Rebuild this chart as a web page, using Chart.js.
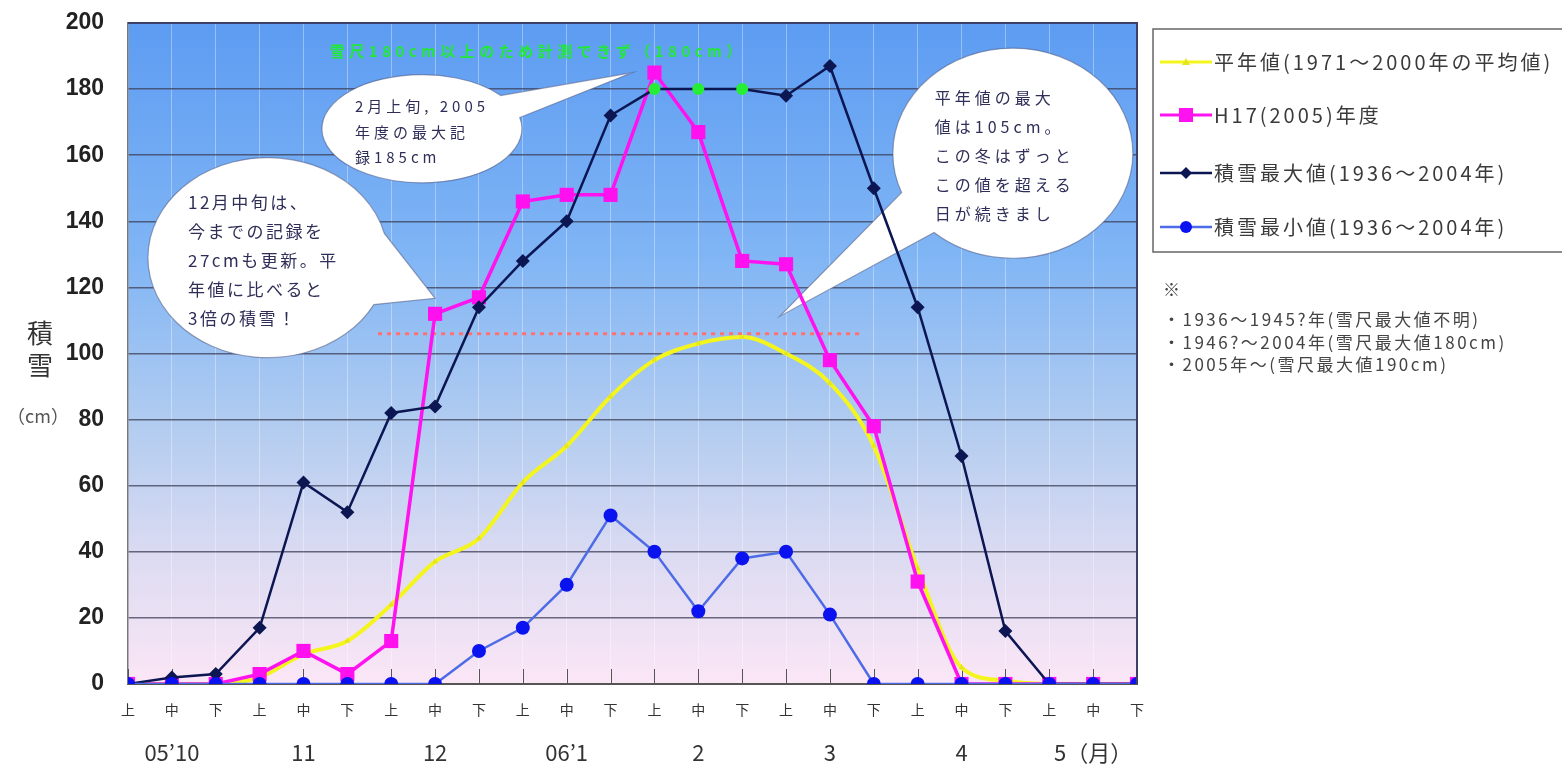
<!DOCTYPE html>
<html><head><meta charset="utf-8">
<script src="https://cdn.jsdelivr.net/npm/chart.js@4.4.1/dist/chart.umd.min.js"></script>
<style>html,body{margin:0;padding:0;background:#fff;overflow:hidden}#wrap{width:1562px;height:765px;position:relative}</style>
</head><body><div id="wrap"><canvas id="c" width="1562" height="765"></canvas></div>
<script>
// ---- data ----
const periodLabels = ['上','中','下','上','中','下','上','中','下','上','中','下','上','中','下','上','中','下','上','中','下','上','中','下'];
const monthLabels = ['', '05’10', '', '', '11', '', '', '12', '', '', '06’1', '', '', '2', '', '', '3', '', '', '4', '', '', '5（月）', ''];
const normalValues = [0,0,0,2,9,13,24,37,44,61,72,87,98,103,105,100,91,72,35,5,1,0,0,0];
const h17Values    = [0,0,0,3,10,3,13,112,117,146,148,148,185,167,128,127,98,78,31,0,0,0,0,0];
const maxValues    = [0,2,3,17,61,52,82,84,114,128,140,172,180,180,180,178,187,150,114,69,16,0,0,0];
const minValues    = [0,0,0,0,0,0,0,0,10,17,30,51,40,22,38,40,21,0,0,0,0,0,0,0];
const cappedIndices = [12,13,14];          // 雪尺上限で計測できなかった旬
const normalPeakValue = 106;               // 平年値の最大値の目安線
const normalPeakRange = [5.7, 16.75];      // その線の範囲（旬インデックス）
const seriesNames = ['平年値(1971～2000年の平均値)','H17(2005)年度','積雪最大値(1936～2004年)','積雪最小値(1936～2004年)'];
const noteLines = ['※','・1936～1945?年(雪尺最大値不明)','・1946?～2004年(雪尺最大値180cm)','・2005年～(雪尺最大値190cm)'];
const cappedNote = '雪尺180cm以上のため計測できず（180cm）';

const JP = '"Noto Sans CJK JP", "Noto Sans", sans-serif';
const N = periodLabels.length;
const toXY = arr => arr.map((v,i)=>({x:i,y:v}));
const isCapped = ctx => cappedIndices.includes(ctx.dataIndex);

const bubbles = [
  {at:[6.7,168], rx:100, ry:54, tip:[11.5,185], base:[-38,-12], tx:-67, ty:-22, lh:25.5, font:'15px '+JP, ls:4,
   lines:['2月上旬, 2005','年度の最大記','録185cm']},
  {at:[3.19,129], rx:120, ry:100, tip:[7.0,116.7], base:[-14,28], tx:-80, ty:-55, lh:29, font:'17px '+JP, ls:2.5,
   lines:['12月中旬は、','今までの記録を','27cmも更新。平','年値に比べると','3倍の積雪！']},
  {at:[20.17,160.6], rx:120, ry:105, tip:[14.86,111.3], base:[131,158], tx:-78, ty:-55, lh:29, font:'16px '+JP, ls:4,
   lines:['平年値の最大','値は105cm。','この冬はずっと','この値を超える','日が続きまし','た']}
];

const bgPlugin = {
  id:'bg',
  beforeDraw(chart){
    const {ctx, chartArea:a} = chart;
    ctx.save();
    ctx.fillStyle='#fff'; ctx.fillRect(0,0,chart.width,chart.height);
    const g = ctx.createLinearGradient(0,a.top,0,a.bottom);
    g.addColorStop(0,'#5d9cf2'); g.addColorStop(0.35,'#80b5f5');
    g.addColorStop(0.62,'#b4cdf0'); g.addColorStop(0.82,'#dedcf2'); g.addColorStop(1,'#fbe6f6');
    ctx.fillStyle=g; ctx.fillRect(a.left,a.top,a.right-a.left,a.bottom-a.top);
    ctx.restore();
  },
  beforeDatasetsDraw(chart){
    const {ctx, chartArea:a, scales:{x,y}} = chart;
    ctx.save();
    // inner tick marks on x axis
    ctx.strokeStyle='#555'; ctx.lineWidth=1;
    for(let i=0;i<N;i++){ const px=Math.round(x.getPixelForValue(i))+0.5; ctx.beginPath(); ctx.moveTo(px,a.bottom-15); ctx.lineTo(px,a.bottom); ctx.stroke(); }
    // green note
    ctx.fillStyle='#22e83a'; ctx.font='bold 15px '+JP; ctx.textBaseline='middle'; ctx.textAlign='left';
    try{ctx.letterSpacing='4.5px';}catch(e){}
    ctx.fillText(cappedNote, x.getPixelForValue(4.6), y.getPixelForValue(191.5));
    try{ctx.letterSpacing='0px';}catch(e){}
    // bubbles
    const d = Math.PI/180;
    bubbles.forEach(b=>{
      const cx=x.getPixelForValue(b.at[0]), cy=y.getPixelForValue(b.at[1]);
      const tx=x.getPixelForValue(b.tip[0]), ty=y.getPixelForValue(b.tip[1]);
      ctx.beginPath();
      ctx.ellipse(cx,cy,b.rx,b.ry,0,b.base[1]*d,b.base[0]*d+2*Math.PI,false);
      ctx.lineTo(tx,ty); ctx.closePath();
      ctx.fillStyle='#fff'; ctx.fill();
      ctx.strokeStyle='rgba(80,90,130,0.55)'; ctx.lineWidth=1.2; ctx.stroke();
      ctx.save();
      ctx.beginPath(); ctx.ellipse(cx,cy,b.rx-2,b.ry-2,0,0,2*Math.PI); ctx.clip();
      ctx.fillStyle='#2e2e58'; ctx.font=b.font; ctx.textBaseline='middle'; ctx.textAlign='left';
      try{ctx.letterSpacing=b.ls+'px';}catch(e){}
      b.lines.forEach((t,i)=>ctx.fillText(t,cx+b.tx,cy+b.ty+i*b.lh));
      ctx.restore();
    });
    ctx.restore();
  },
  afterDraw(chart){
    const {ctx, chartArea:a} = chart;
    ctx.save();
    // plot frame top/right
    ctx.strokeStyle='#3a4068'; ctx.lineWidth=2;
    ctx.beginPath(); ctx.moveTo(a.left,a.top); ctx.lineTo(a.right,a.top); ctx.lineTo(a.right,a.bottom); ctx.stroke();
    // y title
    ctx.fillStyle='#333'; ctx.textAlign='center'; ctx.textBaseline='middle';
    ctx.font='26px '+JP; ctx.fillText('積',40,333); ctx.fillText('雪',40,365);
    ctx.fillStyle='#555'; ctx.font='18px '+JP; ctx.fillText('（cm）',38,416);
    // legend
    const L = 1153, T = 29, B = 252;
    ctx.fillStyle='#fff'; ctx.fillRect(L,T,chart.width-L+20,B-T);
    ctx.strokeStyle='#666'; ctx.lineWidth=1.5; ctx.strokeRect(L,T,chart.width-L+20,B-T);
    const rows=[62,115,173,227];
    chart.data.datasets.slice(0,4).forEach((ds,i)=>{
      const yy=rows[i];
      ctx.strokeStyle=ds.borderColor; ctx.lineWidth=Math.min(ds.borderWidth,3);
      ctx.beginPath(); ctx.moveTo(1160,yy); ctx.lineTo(1212,yy); ctx.stroke();
      const mc=ds.legendMarkerColor; ctx.fillStyle=mc;
      const cx=1186;
      ctx.beginPath();
      if(i===0){ ctx.moveTo(cx,yy-4); ctx.lineTo(cx+4,yy+3); ctx.lineTo(cx-4,yy+3); ctx.closePath(); }
      else if(i===1){ ctx.rect(cx-7,yy-7,14,14); }
      else if(i===2){ ctx.moveTo(cx,yy-6); ctx.lineTo(cx+6,yy); ctx.lineTo(cx,yy+6); ctx.lineTo(cx-6,yy); ctx.closePath(); }
      else { ctx.arc(cx,yy,6,0,2*Math.PI); }
      ctx.fill();
      ctx.fillStyle='#3a3a3a'; ctx.font='20px '+JP; ctx.textAlign='left'; ctx.textBaseline='middle';
      try{ctx.letterSpacing='3px';}catch(e){}
      ctx.fillText(ds.label,1214,yy);
      try{ctx.letterSpacing='0px';}catch(e){}
    });
    // notes
    ctx.fillStyle='#444'; ctx.font='17px '+JP; ctx.textAlign='left'; ctx.textBaseline='middle';
    try{ctx.letterSpacing='2.5px';}catch(e){}
    const ny=[290,320,343,365];
    noteLines.forEach((t,i)=>ctx.fillText(t,1163,ny[i]));
    ctx.restore();
  }
};

const tickList = s => { s.ticks = periodLabels.map((_,i)=>({value:i})); };
const noPadX = h => s => { s.height=h; s.paddingLeft=0; s.paddingRight=0; };

new Chart(document.getElementById('c'), {
  type:'line',
  data:{datasets:[
    {label:seriesNames[0], data:toXY(normalValues), xAxisID:'x', yAxisID:'y',
     borderColor:'#f5f51e', backgroundColor:'#e6e61c', legendMarkerColor:'#e6e61c', borderWidth:4,
     pointStyle:'triangle', pointRadius:3.5, pointBorderWidth:0, pointBackgroundColor:'#e6e61c',
     cubicInterpolationMode:'monotone', order:4},
    {label:seriesNames[1], data:toXY(h17Values), xAxisID:'x', yAxisID:'y',
     borderColor:'#ff12f0', backgroundColor:'#ff12f0', legendMarkerColor:'#ff12f0', borderWidth:3.5,
     pointStyle:'rect', pointRadius:10, pointBorderWidth:0, pointBackgroundColor:'#ff10ee', order:3},
    {label:seriesNames[2], data:toXY(maxValues), xAxisID:'x', yAxisID:'y',
     borderColor:'#0c1652', backgroundColor:'#0c1652', legendMarkerColor:'#0c1652', borderWidth:2.5,
     pointStyle:ctx=>isCapped(ctx)?'circle':'rectRot', pointRadius:ctx=>isCapped(ctx)?6:7,
     pointBackgroundColor:ctx=>isCapped(ctx)?'#25ee35':'#0c1652', pointBorderWidth:0, order:2},
    {label:seriesNames[3], data:toXY(minValues), xAxisID:'x', yAxisID:'y',
     borderColor:'#4d6be6', backgroundColor:'#0a12f0', legendMarkerColor:'#0a12f0', borderWidth:2.5,
     pointStyle:'circle', pointRadius:7, pointBorderWidth:0, pointBackgroundColor:'#0a12f0', order:1},
    {label:'', data:[{x:normalPeakRange[0],y:normalPeakValue},{x:normalPeakRange[1],y:normalPeakValue}], xAxisID:'x', yAxisID:'y',
     borderColor:'#ff7070', borderDash:[4,5], borderWidth:3, pointRadius:0, order:5}
  ]},
  options:{
    responsive:false, animation:false, devicePixelRatio:1,
    layout:{padding:{top:23,right:425,bottom:0,left:0}},
    plugins:{legend:{display:false}, tooltip:{enabled:false}},
    scales:{
      x:{type:'linear', min:0, max:N-1, position:'bottom', weight:0,
         afterBuildTicks:tickList, afterFit:noPadX(44),
         ticks:{autoSkip:false, maxRotation:0, padding:17, font:{size:14,family:JP}, color:'#333', callback:v=>periodLabels[v] ?? ''},
         grid:{color:'rgba(255,255,255,0.35)', drawTicks:false, lineWidth:1},
         border:{display:true, color:'#555', width:2}},
      x2:{type:'linear', min:0, max:N-1, position:'bottom', weight:1,
         afterBuildTicks:tickList, afterFit:noPadX(37),
         ticks:{autoSkip:false, maxRotation:0, padding:11, font:{size:22,family:JP}, color:'#333', callback:v=>monthLabels[v] ?? ''},
         grid:{display:false, drawTicks:false}, border:{display:false}},
      y:{min:0, max:200, afterFit:s=>{s.width=128; s.paddingTop=0; s.paddingBottom=0;},
         ticks:{stepSize:20, padding:24, font:{size:23,weight:'bold',family:'"Liberation Sans", Arial, sans-serif'}, color:'#222'},
         grid:{color:'rgba(60,62,85,0.75)', lineWidth:1.5, drawTicks:false},
         border:{color:'#777', width:1.5}}
    }
  },
  plugins:[bgPlugin]
});
</script></body></html>
